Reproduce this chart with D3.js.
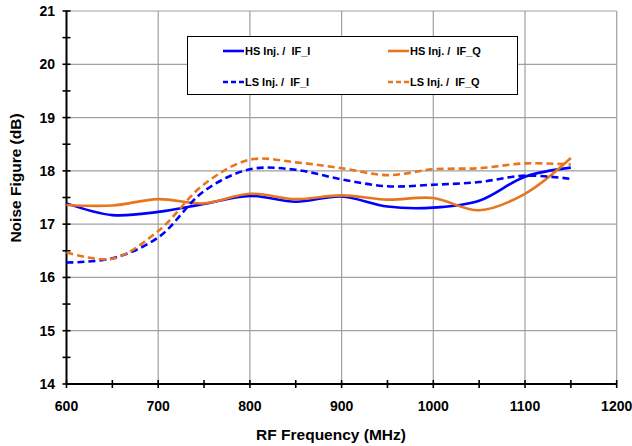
<!DOCTYPE html>
<html>
<head>
<meta charset="utf-8">
<script src="https://cdn.jsdelivr.net/npm/d3@7"></script>
<style>
  html, body { margin: 0; padding: 0; background: #fff; }
  svg { display: block; }
  text { font-family: "Liberation Sans", Arial, sans-serif; font-weight: bold; fill: #000; }
</style>
</head>
<body>
<svg id="chart" width="632" height="446"></svg>
<script>
// ---- data ----
const freqs   = [600, 650, 700, 750, 800, 850, 900, 950, 1000, 1050, 1100, 1150];
const hsIfI   = [17.39, 17.17, 17.23, 17.38, 17.53, 17.42, 17.52, 17.33, 17.31, 17.44, 17.89, 18.06];
const hsIfQ   = [17.36, 17.35, 17.47, 17.39, 17.57, 17.47, 17.54, 17.46, 17.49, 17.26, 17.57, 18.24];
const lsIfI   = [16.28, 16.36, 16.75, 17.62, 18.03, 18.02, 17.84, 17.71, 17.74, 17.79, 17.91, 17.85];
const lsIfQ   = [16.47, 16.35, 16.87, 17.75, 18.21, 18.16, 18.05, 17.92, 18.03, 18.05, 18.14, 18.12];
const seriesNames = ["HS Inj. /  IF_I", "HS Inj. /  IF_Q", "LS Inj. /  IF_I", "LS Inj. /  IF_Q"];
const xTicks = [600, 700, 800, 900, 1000, 1100, 1200];
const yTicks = [14, 15, 16, 17, 18, 19, 20, 21];
const xTitle = "RF Frequency (MHz)";
const yTitle = "Noise Figure (dB)";

const BLUE = "#0000FF", ORANGE = "#E7761E";
const series = [
  { name: seriesNames[0], values: hsIfI, color: BLUE,   dash: null },
  { name: seriesNames[1], values: hsIfQ, color: ORANGE, dash: null },
  { name: seriesNames[2], values: lsIfI, color: BLUE,   dash: "7,4" },
  { name: seriesNames[3], values: lsIfQ, color: ORANGE, dash: "7,4" }
];

const svg = d3.select("#chart");
const x = d3.scaleLinear().domain([600, 1200]).range([66.5, 616.7]);
const y = d3.scaleLinear().domain([14, 21]).range([384, 11]);

// grid
const grid = svg.append("g");
grid.selectAll("line.v").data(xTicks.slice(1)).join("line")
  .attr("x1", d => x(d)).attr("x2", d => x(d))
  .attr("y1", y(21)).attr("y2", y(14))
  .attr("stroke", "#a0a0a0").attr("stroke-width", 1.2);
grid.selectAll("line.h").data(yTicks.slice(1)).join("line")
  .attr("y1", d => y(d)).attr("y2", d => y(d))
  .attr("x1", x(600)).attr("x2", x(1200))
  .attr("stroke", "#a0a0a0").attr("stroke-width", 1.2);

// axes with crossing ticks
const yMinor = d3.range(14, 21.01, 0.5);
const xMinor = d3.range(600, 1200.1, 50);
const ax = svg.append("g");
ax.selectAll("line.yt").data(yMinor).join("line")
  .attr("x1", x(600) - 4).attr("x2", x(600) + 4)
  .attr("y1", d => y(d)).attr("y2", d => y(d))
  .attr("stroke", "#000").attr("stroke-width", 1.6);
ax.selectAll("line.xt").data(xMinor).join("line")
  .attr("y1", y(14) - 4).attr("y2", y(14) + 4)
  .attr("x1", d => x(d)).attr("x2", d => x(d))
  .attr("stroke", "#000").attr("stroke-width", 1.6);
ax.append("line").attr("x1", x(600)).attr("x2", x(600)).attr("y1", y(21)).attr("y2", y(14))
  .attr("stroke", "#000").attr("stroke-width", 2);
ax.append("line").attr("x1", x(600)).attr("x2", x(1200)).attr("y1", y(14)).attr("y2", y(14))
  .attr("stroke", "#000").attr("stroke-width", 2);

// tick labels
svg.append("g").selectAll("text").data(yTicks).join("text")
  .attr("x", 55).attr("y", d => y(d)).attr("dy", "0.36em")
  .attr("text-anchor", "end").style("font-size", "14px").text(d => d);
svg.append("g").selectAll("text").data(xTicks).join("text")
  .attr("x", d => x(d)).attr("y", 411)
  .attr("text-anchor", "middle").style("font-size", "14px").text(d => d);

// titles
svg.append("text").attr("x", 331).attr("y", 440).attr("text-anchor", "middle")
  .style("font-size", "15.5px").text(xTitle);
svg.append("text").attr("transform", "translate(21,178) rotate(-90)")
  .attr("text-anchor", "middle").style("font-size", "15.5px").text(yTitle);

// lines
const line = d3.line().curve(d3.curveCatmullRom.alpha(0.5))
  .x(d => x(d[0])).y(d => y(d[1]));
series.forEach(s => {
  svg.append("path")
    .datum(freqs.map((f, i) => [f, s.values[i]]))
    .attr("d", line)
    .attr("fill", "none")
    .attr("stroke", s.color)
    .attr("stroke-width", 2.6)
    .attr("stroke-dasharray", s.dash);
});

// legend
const lg = svg.append("g");
lg.append("rect").attr("x", 187.5).attr("y", 36.5).attr("width", 330).attr("height", 58)
  .attr("fill", "#fff").attr("stroke", "#000").attr("stroke-width", 1);
const pos = [[223, 51], [388, 51], [223, 82], [388, 82]];
series.forEach((s, i) => {
  const [lx, ly] = pos[i];
  lg.append("line").attr("x1", lx).attr("x2", lx + 21).attr("y1", ly).attr("y2", ly)
    .attr("stroke", s.color).attr("stroke-width", 2.6).attr("stroke-dasharray", s.dash ? "5,3" : null);
  lg.append("text").attr("x", lx + 22).attr("y", ly + 4)
    .style("font-size", "11px").style("white-space", "pre").text(s.name);
});
</script>
</body>
</html>
